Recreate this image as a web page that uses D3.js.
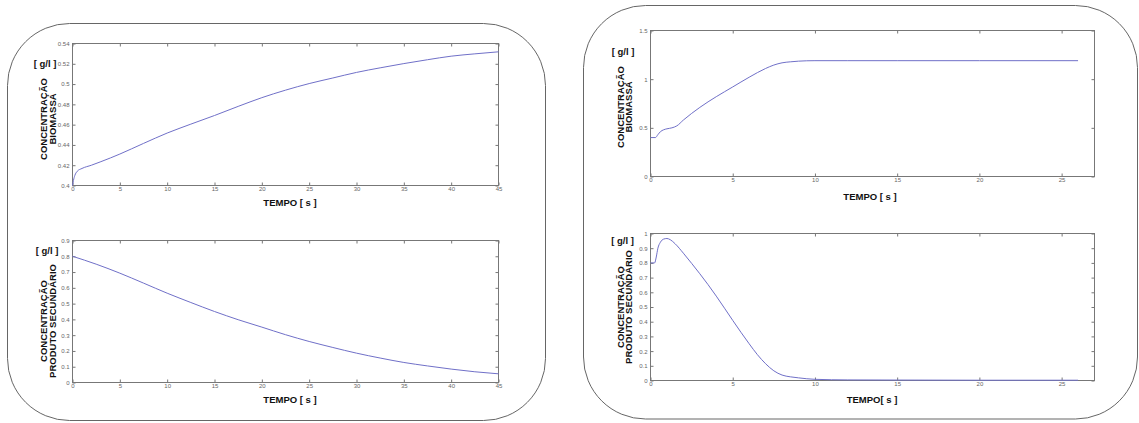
<!DOCTYPE html>
<html>
<head>
<meta charset="utf-8">
<script src="https://cdn.jsdelivr.net/npm/d3@7/dist/d3.min.js"></script>
<style>
  html, body { margin: 0; padding: 0; background: #fff; }
  svg { display: block; }
  .lbl { font-family: "Liberation Sans", Arial, sans-serif; font-weight: bold; font-size: 9.5px; fill: #111; }
  .tick text { font-family: "Liberation Sans", Arial, sans-serif; font-size: 6px; fill: #666; }
</style>
</head>
<body>
<svg id="chart" width="1139" height="423"></svg>
<script>
// ---------- DATA ----------
// Left panel, top: biomass concentration [g/l] vs time [s]
const tBio1 = [0, 0.1, 0.25, 0.5, 1, 2, 3, 5, 7.5, 10, 12.5, 15, 17.5, 20, 22.5, 25, 27.5, 30, 32.5, 35, 37.5, 40, 42.5, 45];
const vBio1 = [0.400, 0.405, 0.410, 0.414, 0.4168, 0.420, 0.4235, 0.431, 0.4415, 0.4517, 0.4605, 0.469, 0.478, 0.4866, 0.494, 0.5005, 0.506, 0.5115, 0.516, 0.5202, 0.524, 0.5275, 0.5298, 0.5318];
// Left panel, bottom: secondary product concentration
const tProd1 = [0, 2.5, 5, 7.5, 10, 12.5, 15, 17.5, 20, 22.5, 25, 27.5, 30, 32.5, 35, 37.5, 40, 42.5, 45];
const vProd1 = [0.800, 0.750, 0.693, 0.630, 0.566, 0.507, 0.450, 0.398, 0.351, 0.303, 0.260, 0.222, 0.186, 0.155, 0.127, 0.105, 0.085, 0.068, 0.055];
// Right panel, top: biomass concentration
const tBio2 = [0, 0.3, 0.45, 0.6, 0.8, 1.0, 1.3, 1.6, 2, 3, 4, 5, 6, 7, 7.5, 8, 8.5, 9, 10, 12, 15, 20, 26];
const vBio2 = [0.40, 0.40, 0.43, 0.46, 0.48, 0.49, 0.50, 0.52, 0.58, 0.71, 0.82, 0.92, 1.02, 1.11, 1.145, 1.168, 1.178, 1.185, 1.19, 1.19, 1.19, 1.19, 1.19];
// Right panel, bottom: secondary product concentration
const tProd2 = [0, 0.25, 0.35, 0.45, 0.6, 0.8, 1.0, 1.2, 1.5, 2, 2.5, 3, 3.5, 4, 4.5, 5, 5.5, 6, 6.5, 7, 7.5, 8, 8.5, 9, 9.5, 10, 12, 15, 20, 26];
const vProd2 = [0.80, 0.80, 0.84, 0.90, 0.94, 0.962, 0.966, 0.958, 0.930, 0.866, 0.797, 0.726, 0.652, 0.574, 0.492, 0.409, 0.328, 0.250, 0.176, 0.114, 0.066, 0.037, 0.025, 0.018, 0.012, 0.008, 0.004, 0.003, 0.002, 0.002];

// Tick values
const xTicksLeft = [0, 5, 10, 15, 20, 25, 30, 35, 40, 45];
const xTicksRight = [0, 5, 10, 15, 20, 25];
const yTicksBio1 = [0.4, 0.42, 0.44, 0.46, 0.48, 0.5, 0.52, 0.54];
const yTicksProd1 = [0, 0.1, 0.2, 0.3, 0.4, 0.5, 0.6, 0.7, 0.8, 0.9];
const yTicksBio2 = [0, 0.5, 1, 1.5];
const yTicksProd2 = [0, 0.1, 0.2, 0.3, 0.4, 0.5, 0.6, 0.7, 0.8, 0.9, 1];

// Text
const unitLabel = "[ g/l ]";
const yLabelBio = ["CONCENTRAÇÃO", "BIOMASSA"];
const yLabelProd = ["CONCENTRAÇÃO", "PRODUTO SECUNDÁRIO"];
const xLabel = "TEMPO [ s ]";
const xLabelAlt = "TEMPO[ s ]";

// ---------- DRAW ----------
const svg = d3.select("#chart");
const fmt = d3.format("~g");

// Rounded panels
svg.append("rect").attr("x", 7.5).attr("y", 23.5).attr("width", 538).attr("height", 397)
  .attr("rx", 62).attr("ry", 62).attr("fill", "none").attr("stroke", "#666").attr("stroke-width", 1);
svg.append("rect").attr("x", 583.5).attr("y", 5.5).attr("width", 554).attr("height", 413.5)
  .attr("rx", 62).attr("ry", 62).attr("fill", "none").attr("stroke", "#666").attr("stroke-width", 1);

function plot(o) {
  const x = d3.scaleLinear().domain(o.xDomain).range([o.x0, o.x1]);
  const y = d3.scaleLinear().domain(o.yDomain).range([o.y1, o.y0]);
  const g = svg.append("g");
  const tl = 3;
  g.append("g").attr("transform", `translate(0,${o.y1})`)
    .call(d3.axisBottom(x).tickValues(o.xTicks).tickFormat(fmt).tickSizeInner(-tl).tickSizeOuter(0).tickPadding(2))
    .call(s => { s.select(".domain").remove(); s.selectAll("line").attr("stroke", "#777"); s.selectAll("text").attr("dy", "0.62em").attr("y", 2); });
  g.append("g").attr("transform", `translate(0,${o.y0})`)
    .call(d3.axisTop(x).tickValues(o.xTicks).tickFormat("").tickSizeInner(-tl).tickSizeOuter(0))
    .call(s => { s.select(".domain").remove(); s.selectAll("line").attr("stroke", "#777"); });
  g.append("g").attr("transform", `translate(${o.x0},0)`)
    .call(d3.axisLeft(y).tickValues(o.yTicks).tickFormat(fmt).tickSizeInner(-tl).tickSizeOuter(0).tickPadding(3))
    .call(s => { s.select(".domain").remove(); s.selectAll("line").attr("stroke", "#777"); s.selectAll("text").attr("x", -3); });
  g.append("g").attr("transform", `translate(${o.x1},0)`)
    .call(d3.axisRight(y).tickValues(o.yTicks).tickFormat("").tickSizeInner(-tl).tickSizeOuter(0))
    .call(s => { s.select(".domain").remove(); s.selectAll("line").attr("stroke", "#777"); });
  g.append("rect").attr("x", o.x0).attr("y", o.y0).attr("width", o.x1 - o.x0).attr("height", o.y1 - o.y0)
    .attr("fill", "none").attr("stroke", "#777").attr("stroke-width", 1);
  const pts = o.t.map((t, i) => [t, o.v[i]]);
  g.append("path").datum(pts)
    .attr("fill", "none").attr("stroke", "#7070c8").attr("stroke-width", 1)
    .attr("d", d3.line().x(d => x(d[0])).y(d => y(d[1])).curve(d3.curveMonotoneX));
  g.append("text").attr("class", "lbl").attr("x", o.unitX).attr("y", o.unitY).attr("text-anchor", "middle").text(unitLabel);
  o.yLabel.forEach((s, i) => {
    g.append("text").attr("class", "lbl").attr("text-anchor", "middle")
      .attr("transform", `translate(${o.labX[i]},${o.labCY}) rotate(-90)`).text(s);
  });
  g.append("text").attr("class", "lbl").attr("text-anchor", "middle")
    .attr("x", o.xlabX).attr("y", o.xlabY).text(o.xLabelText);
}

plot({ t: tBio1, v: vBio1, xDomain: [0, 45], yDomain: [0.4, 0.54], xTicks: xTicksLeft, yTicks: yTicksBio1,
  x0: 72.5, x1: 498.5, y0: 43.5, y1: 185.5, unitX: 45, unitY: 67, yLabel: yLabelBio, labX: [47, 55.5], labCY: 119,
  xlabX: 290, xlabY: 206, xLabelText: xLabel });
plot({ t: tProd1, v: vProd1, xDomain: [0, 45], yDomain: [0, 0.9], xTicks: xTicksLeft, yTicks: yTicksProd1,
  x0: 72.5, x1: 498.5, y0: 240.5, y1: 382.5, unitX: 47, unitY: 254, yLabel: yLabelProd, labX: [47, 55.5], labCY: 321,
  xlabX: 290, xlabY: 403, xLabelText: xLabel });
plot({ t: tBio2, v: vBio2, xDomain: [0, 27], yDomain: [0, 1.5], xTicks: xTicksRight, yTicks: yTicksBio2,
  x0: 650.5, x1: 1094.5, y0: 30.5, y1: 176.5, unitX: 623, unitY: 55, yLabel: yLabelBio, labX: [623.5, 632], labCY: 107,
  xlabX: 870, xlabY: 200, xLabelText: xLabel });
plot({ t: tProd2, v: vProd2, xDomain: [0, 27], yDomain: [0, 1], xTicks: xTicksRight, yTicks: yTicksProd2,
  x0: 650.5, x1: 1094.5, y0: 233.5, y1: 380.5, unitX: 622.5, unitY: 243.5, yLabel: yLabelProd, labX: [623.5, 632], labCY: 307,
  xlabX: 872, xlabY: 403, xLabelText: xLabelAlt });
</script>
</body>
</html>
